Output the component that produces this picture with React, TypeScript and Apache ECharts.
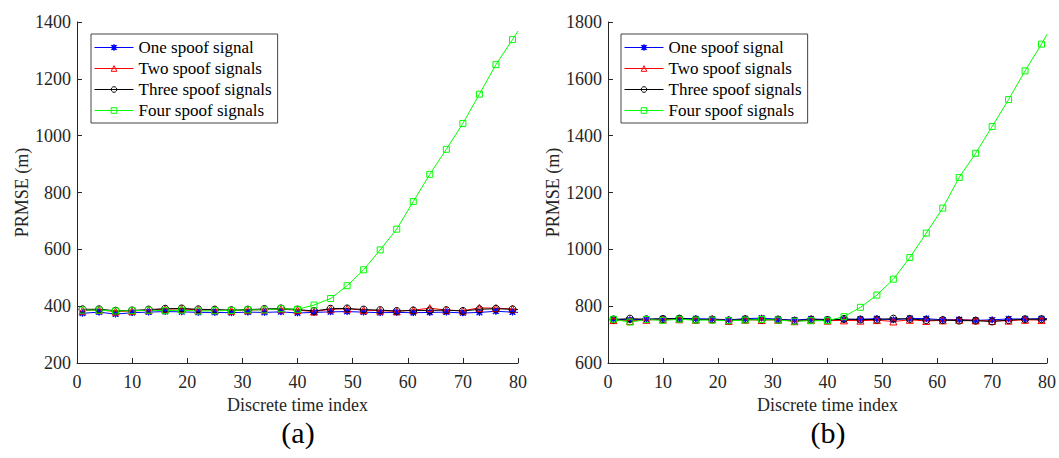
import React, { useEffect, useRef } from "react";
import * as echarts from "echarts";

// Discrete time indices at which values were read (markers every 3 steps, plus end point 80)
const timeIndex = [1, 4, 7, 10, 13, 16, 19, 22, 25, 28, 31, 34, 37, 40, 43, 46, 49, 52, 55, 58, 61, 64, 67, 70, 73, 76, 79, 80];

const seriesNames = ["One spoof signal", "Two spoof signals", "Three spoof signals", "Four spoof signals"];

// Panel (a)
const oneA = [375, 379, 372, 377, 379, 381, 380, 378, 378, 377, 379, 378, 380, 376, 378, 380, 381, 379, 377, 378, 377, 378, 379, 376, 378, 382, 379, 378];
const twoA = [384, 387, 381, 383, 386, 390, 390, 387, 386, 384, 386, 388, 389, 386, 381, 389, 391, 386, 384, 382, 386, 393, 386, 384, 394, 393, 390, 388];
const threeA = [389, 389, 384, 385, 388, 391, 392, 389, 388, 386, 388, 390, 392, 388, 383, 391, 392, 388, 386, 383, 385, 385, 386, 383, 389, 391, 389, 388];
const fourA = [386, 386, 383, 384, 386, 384, 386, 383, 384, 385, 387, 387, 391, 389, 404, 427, 472, 528, 598, 671, 768, 864, 952, 1043, 1146, 1250, 1338, 1368];

// Panel (b)
const oneB = [754, 752, 754, 756, 757, 756, 755, 752, 756, 758, 754, 751, 755, 753, 753, 754, 756, 752, 757, 756, 752, 753, 750, 752, 755, 755, 756, 756];
const twoB = [751, 748, 752, 753, 754, 752, 754, 748, 752, 751, 752, 747, 751, 749, 750, 749, 751, 746, 752, 748, 750, 752, 750, 748, 749, 752, 751, 752];
const threeB = [753, 756, 754, 755, 756, 753, 753, 750, 754, 753, 753, 749, 753, 751, 755, 753, 753, 756, 755, 751, 751, 749, 749, 746, 751, 754, 754, 754];
const fourB = [754, 744, 753, 750, 754, 751, 751, 749, 751, 753, 751, 747, 749, 749, 763, 796, 839, 895, 971, 1057, 1145, 1253, 1338, 1432, 1527, 1628, 1722, 1757];

const xTicks = { min: 0, max: 80, interval: 10 };
const yTicksA = { min: 200, max: 1400, interval: 200 };
const yTicksB = { min: 600, max: 1800, interval: 200 };

const FONT = "Liberation Serif";
const AXIS_COLOR = "#262626";

const ASTERISK =
  "path://M4.4,0H5.6V10H4.4Z M0,4.4H10V5.6H0Z M1.2,0.4L9.6,8.8L8.8,9.6L0.4,1.2Z M8.8,0.4L9.6,1.2L1.2,9.6L0.4,8.8Z";

const styles = [
  { color: "#0000ff", symbol: ASTERISK, size: 6, fill: "#0000ff" },
  { color: "#ff0000", symbol: "triangle", size: 7, fill: "rgba(0,0,0,0)" },
  { color: "#000000", symbol: "circle", size: 7, fill: "rgba(0,0,0,0)" },
  { color: "#00ff00", symbol: "rect", size: 6, fill: "rgba(0,0,0,0)" },
];

function makeSeries(values: number[][], gridIndex: number) {
  return values.map((vals, si) => {
    const st = styles[si];
    return {
      name: seriesNames[si],
      type: "line",
      xAxisIndex: gridIndex,
      yAxisIndex: gridIndex,
      symbol: st.symbol,
      symbolSize: st.size,
      showAllSymbol: true,
      lineStyle: { color: st.color, width: 1 },
      itemStyle: { color: st.fill, borderColor: st.color, borderWidth: 1 },
      emphasis: { disabled: true },
      data: timeIndex.map((x, i) =>
        i === timeIndex.length - 1 ? { value: [x, vals[i]], symbol: "none" } : [x, vals[i]]
      ),
    };
  });
}

function xAxis(gridIndex: number) {
  return {
    type: "value",
    gridIndex,
    ...xTicks,
    name: "Discrete time index",
    nameLocation: "middle",
    nameGap: 32,
    nameTextStyle: { fontFamily: FONT, fontSize: 18, color: AXIS_COLOR },
    axisLine: { show: true, lineStyle: { color: AXIS_COLOR, width: 1 } },
    axisTick: { show: true, inside: true, length: 5, lineStyle: { color: AXIS_COLOR } },
    axisLabel: { fontFamily: FONT, fontSize: 18, color: AXIS_COLOR, margin: 10 },
    splitLine: { show: false },
  };
}

function yAxis(gridIndex: number, ticks: { min: number; max: number; interval: number }) {
  return {
    type: "value",
    gridIndex,
    ...ticks,
    name: "PRMSE (m)",
    nameLocation: "middle",
    nameGap: 40,
    nameTextStyle: { fontFamily: FONT, fontSize: 18, color: AXIS_COLOR },
    axisLine: { show: true, lineStyle: { color: AXIS_COLOR, width: 1 } },
    axisTick: { show: true, inside: true, length: 5, lineStyle: { color: AXIS_COLOR } },
    axisLabel: {
      fontFamily: FONT,
      fontSize: 18,
      color: AXIS_COLOR,
      margin: 6,
      formatter: (v: number) => String(v),
    },
    splitLine: { show: false },
  };
}

function legend(left: number) {
  return {
    orient: "vertical",
    left,
    top: 34,
    data: seriesNames.map((name, i) => ({
      name,
      lineStyle: { color: styles[i].color, width: 1 },
      itemStyle: { color: styles[i].fill, borderColor: styles[i].color, borderWidth: 1 },
    })),
    itemWidth: 39,
    itemHeight: 7,
    itemGap: 4,
    padding: [5, 6, 4, 3],
    borderColor: "#444",
    borderWidth: 1,
    backgroundColor: "#fff",
    selectedMode: false,
    textStyle: { fontFamily: FONT, fontSize: 17, color: "#000", lineHeight: 17 },
  };
}

export default function App() {
  const ref = useRef<HTMLDivElement>(null);
  useEffect(() => {
    if (!ref.current) return;
    const chart = echarts.init(ref.current, undefined, { renderer: "svg" });
    chart.setOption({
      animation: false,
      backgroundColor: "#fff",
      textStyle: { fontFamily: FONT },
      grid: [
        { left: 77, top: 22, width: 441, height: 341 },
        { left: 608, top: 22, width: 440, height: 341 },
      ],
      xAxis: [xAxis(0), xAxis(1)],
      yAxis: [yAxis(0, yTicksA), yAxis(1, yTicksB)],
      legend: [legend(91), legend(621)],
      series: [
        ...makeSeries([oneA, twoA, threeA, fourA], 0),
        ...makeSeries([oneB, twoB, threeB, fourB], 1),
      ],
      graphic: [
        {
          type: "text",
          x: 298,
          y: 432,
          style: { text: "(a)", fontFamily: FONT, fontSize: 30, fill: "#000", textAlign: "center", textVerticalAlign: "middle" },
        },
        {
          type: "text",
          x: 828,
          y: 432,
          style: { text: "(b)", fontFamily: FONT, fontSize: 30, fill: "#000", textAlign: "center", textVerticalAlign: "middle" },
        },
      ],
    });
    return () => chart.dispose();
  }, []);
  return (
    <div
      ref={ref}
      style={{ position: "absolute", left: 0, top: 0, width: 1059, height: 458, background: "#fff" }}
    />
  );
}
